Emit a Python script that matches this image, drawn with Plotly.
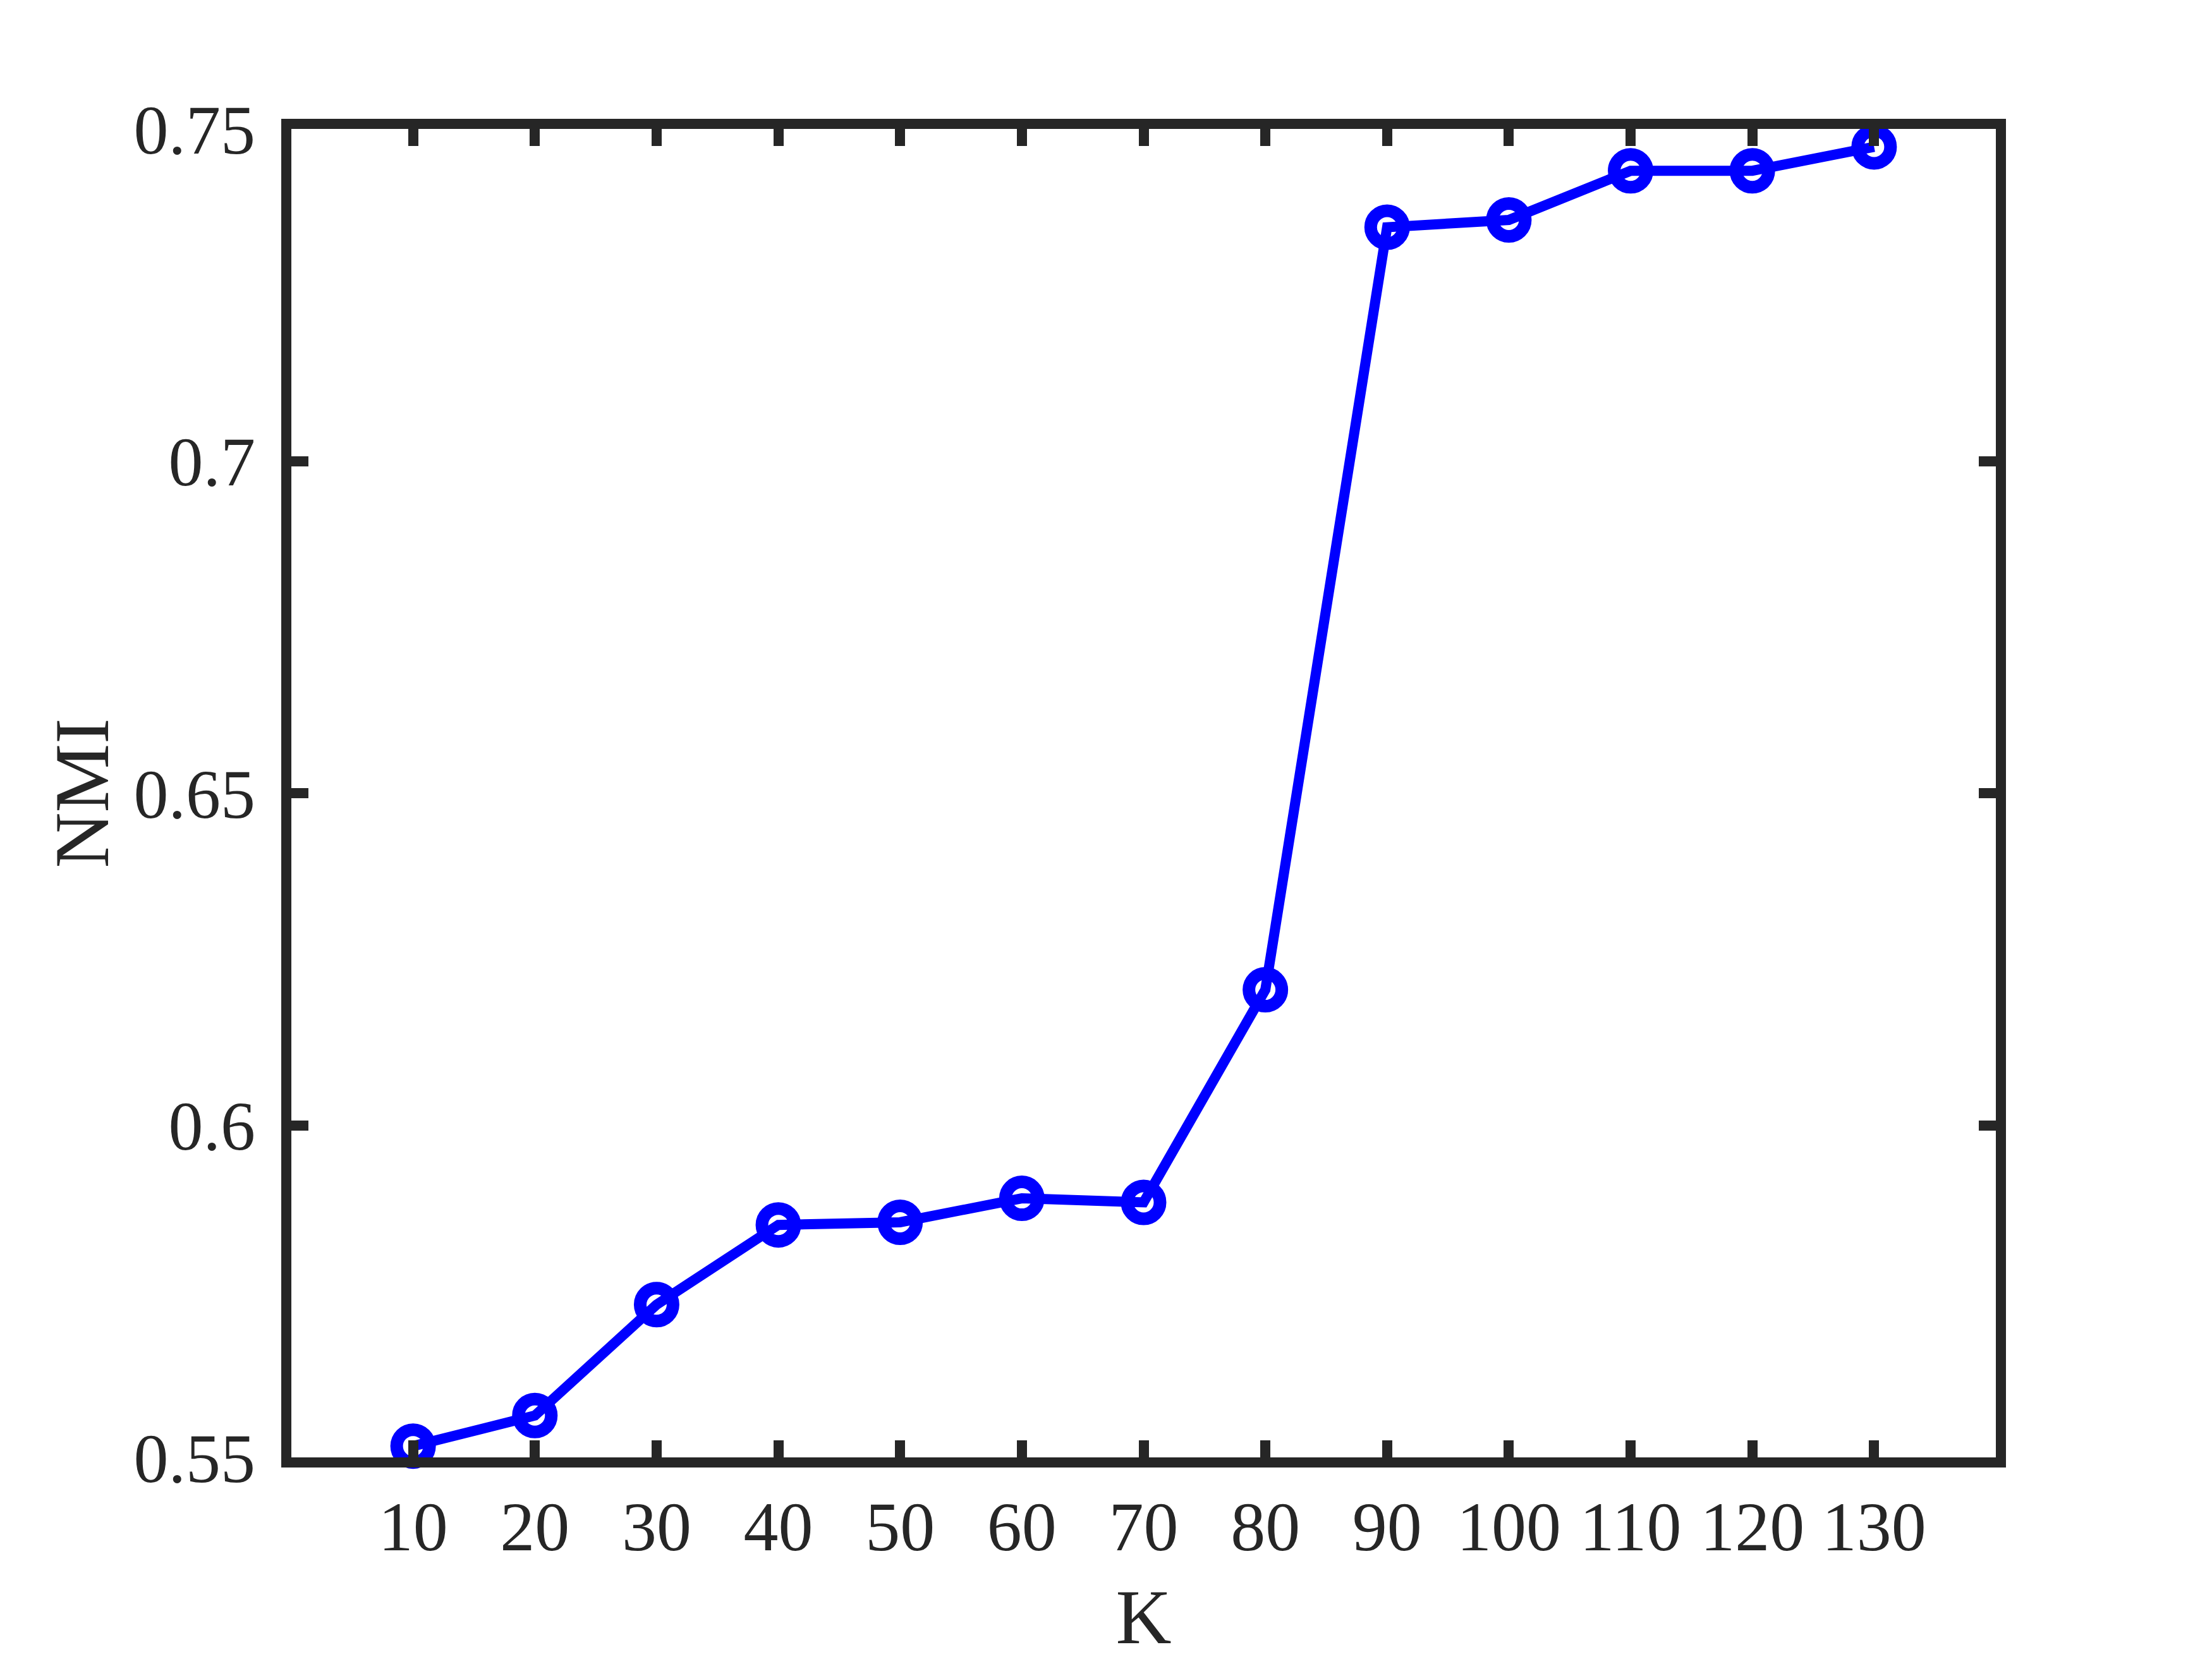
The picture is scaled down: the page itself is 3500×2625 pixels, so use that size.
import plotly.graph_objects as go

k_values = [10, 20, 30, 40, 50, 60, 70, 80, 90, 100, 110, 120, 130]
nmi_values = [0.5517, 0.5563, 0.5730, 0.5850, 0.5854, 0.5890, 0.5884,
              0.6204, 0.7352, 0.7363, 0.7437, 0.7437, 0.7473]
y_tick_vals = [0.55, 0.6, 0.65, 0.7, 0.75]
y_tick_text = ["0.55", "0.6", "0.65", "0.7", "0.75"]

ink = "#262626"
font_family = "Liberation Serif, Times New Roman, serif"

fig = go.Figure()
fig.add_trace(go.Scatter(
    x=k_values, y=nmi_values, mode="lines+markers",
    line=dict(color="#0000FF", width=16),
    marker=dict(symbol="circle-open", size=52, color="#0000FF",
                line=dict(color="#0000FF", width=20)),
    showlegend=False, cliponaxis=False,
))

axis_common = dict(
    showline=True, linecolor=ink, linewidth=16, mirror="ticks",
    ticks="inside", ticklen=27, tickwidth=16, tickcolor=ink,
    showgrid=False, zeroline=False, automargin=False,
    tickfont=dict(family=font_family, size=110, color=ink),
)

fig.update_xaxes(range=[0, 140], tickvals=k_values,
                 ticktext=[str(v) for v in k_values],
                 title=dict(text="K", font=dict(family=font_family, size=122, color=ink), standoff=46),
                 ticklabelstandoff=-1,
                 **axis_common)
fig.update_yaxes(range=[0.55, 0.75], tickvals=y_tick_vals, ticktext=y_tick_text,
                 title=dict(text="NMI", font=dict(family=font_family, size=122, color=ink), standoff=6),
                 ticklabelstandoff=19,
                 **axis_common)

fig.update_layout(
    width=3500, height=2625,
    margin=dict(l=453, r=350, t=196, b=327),
    paper_bgcolor="white", plot_bgcolor="white",
)

fig.write_html("out.html")
